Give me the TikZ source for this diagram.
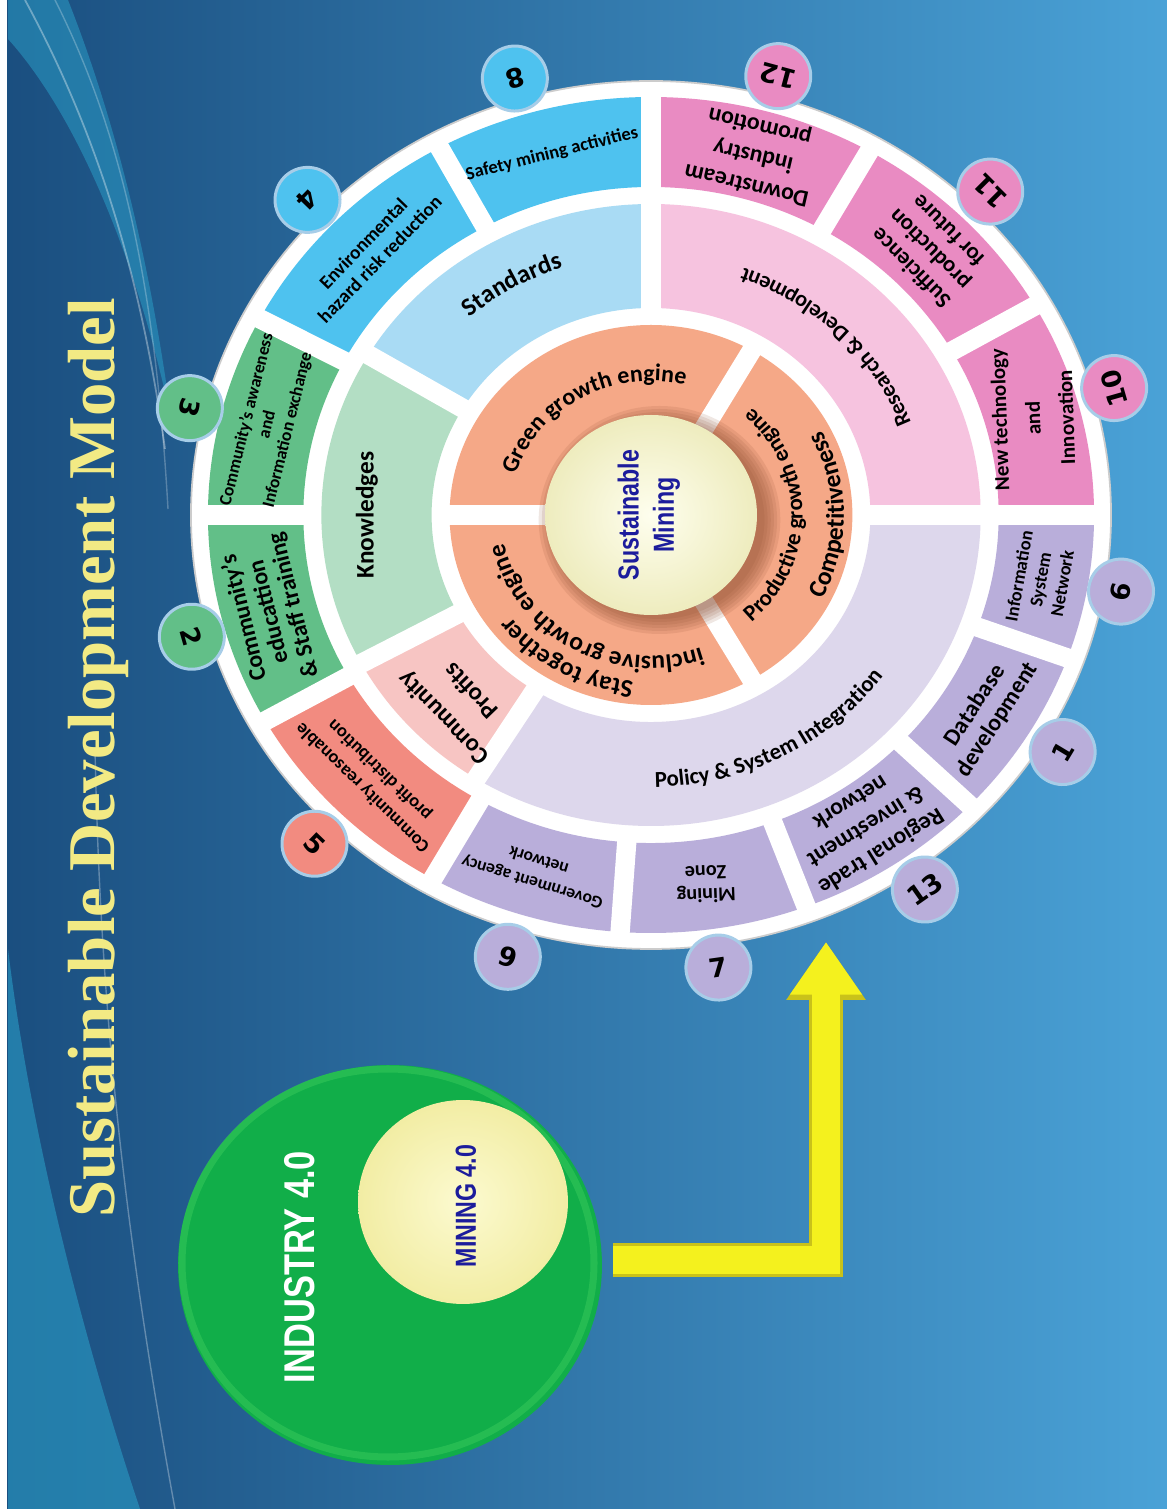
\documentclass[tikz,border=0pt]{standalone}
\usepackage{fontspec}
\setmainfont{Carlito}
\newfontfamily\numfont{DejaVu Sans}
\newfontfamily\titlefont{Liberation Serif}
\newfontfamily\narrowfont[FakeStretch=0.8]{Liberation Sans}
\usetikzlibrary{arrows.meta,calc,shapes.geometric,decorations.text}

\definecolor{bgleft}{HTML}{1A4E7F}
\definecolor{bgright}{HTML}{4AA2D7}
\definecolor{swoosh}{HTML}{2A9CC6}
\definecolor{titleyellow}{HTML}{F2EA84}
\definecolor{pinkO}{HTML}{E98BC2}
\definecolor{pinkM}{HTML}{F6C3DF}
\definecolor{blueO}{HTML}{4EC2EF}
\definecolor{blueM}{HTML}{A9DBF4}
\definecolor{greenO}{HTML}{62BF88}
\definecolor{greenM}{HTML}{B3DEC4}
\definecolor{salmonO}{HTML}{F28B80}
\definecolor{salmonM}{HTML}{F7C5C3}
\definecolor{lilacO}{HTML}{B9AEDA}
\definecolor{lilacM}{HTML}{DDD7EC}
\definecolor{orng}{HTML}{F5A887}
\definecolor{sphshadow}{HTML}{8A4B2E}
\definecolor{sphin}{HTML}{FEFEEE}
\definecolor{sphout}{HTML}{EEECBE}
\definecolor{minein}{HTML}{FCFAD0}
\definecolor{mineout}{HTML}{F2EDA4}
\definecolor{badgeline}{HTML}{A7CDE8}
\definecolor{navytext}{HTML}{1C1C9C}
\definecolor{indgreen}{HTML}{11AE49}
\definecolor{arrowyellow}{HTML}{F4F11E}
\definecolor{arrowedge}{HTML}{C9C21A}

\newcommand{\setfs}[2]{\fontsize{#1}{#2}\selectfont\bfseries}

\begin{document}
\begin{tikzpicture}[x=0.02cm, y=0.02cm,
    lab/.style={align=center, inner sep=0pt},
    badge/.style={circle, draw=badgeline, line width=1.7pt, minimum size=1.3cm,
      inner sep=0pt, font=\numfont\setfs{15}{15}},
    segcut/.style={white, line width=11pt},
    ringtext/.style={decorate, decoration={text along path, text align=center, text={#1}}}]
    %% Background
    \useasboundingbox (0,0) rectangle (1167,1509);
    \shade[left color=bgleft, right color=bgright] (0,0) rectangle (1167,1509);
    \fill[swoosh, opacity=.55] (8,1509) -- (68,1509) .. controls (115,1390) and (150,1250) .. (172,1085)
      .. controls (140,1240) and (80,1390) .. (8,1470) -- cycle;
    \draw[white, opacity=.35, line width=1pt] (25,1509) .. controls (95,1380) and (140,1240) .. (165,1060);
    \draw[white, opacity=.25, line width=.8pt] (55,1509) .. controls (120,1380) and (155,1230) .. (168,1000);
    \fill[swoosh, opacity=.6] (8,0) -- (140,0) .. controls (80,180) and (30,380) .. (8,560) -- cycle;
    \draw[white, opacity=.3, line width=.8pt] (175,0) .. controls (120,300) and (100,520) .. (95,760);
    \fill[white] (0,0) rectangle (7,1509);
    %% Title
    \node[rotate=90, anchor=base, text=titleyellow, font=\titlefont\setfs{38}{38}] (title) at (114,751)
      {Sustainable Development Model};
    %% The wheel
    \begin{scope}[shift={(651,994)}, xscale=1.06]
    \coordinate (wc) at (0,0);
    \fill[white] (wc) circle (434);
    \draw[black!20, line width=1pt] (wc) circle (434);
    % outer ring
    \foreach \a/\b/\c in {0/90/pinkO, 90/152/blueO, 152/209.5/greenO, 209.5/240.5/salmonO, 240.5/360/lilacO}
      \fill[\c] (\a:328) arc[start angle=\a, end angle=\b, radius=328] -- (\b:418)
        arc[start angle=\b, end angle=\a, radius=418] -- cycle;
    \foreach \a in {0,30,60.5,90,118.5,152,180,209.5,240.5,266,290.5,316,340}
      \draw[segcut] (\a:325) -- (\a:421);
    % middle ring
    \foreach \a/\b/\c in {0/90/pinkM, 90/149/blueM, 149/208.5/greenM, 208.5/238/salmonM, 238/360/lilacM}
      \fill[\c] (\a:207) arc[start angle=\a, end angle=\b, radius=207] -- (\b:311)
        arc[start angle=\b, end angle=\a, radius=311] -- cycle;
    \foreach \a in {0,90,149,208.5,238}
      \draw[segcut] (\a:204) -- (\a:314);
    % engine ring and core
    \fill[orng] (wc) circle (190);
    \foreach \a in {60,180,300}
      \draw[segcut] (\a:95) -- (\a:193);
    \foreach \k in {0,...,5}
      \fill[sphshadow, opacity=.13] (8,-5) circle ({99+3*\k});
    \shade[inner color=sphin, outer color=sphout] (wc) circle (100);
    \node[rotate=90, text=navytext, align=center, font=\narrowfont\setfs{16.5}{20}] (core) at (-2,0)
      {Sustainable\\Mining};
    % ring texts
    \path[ringtext={|\setfs{13.6}{14}|Green growth engine}] (210:134) arc[start angle=210, end angle=30, radius=134];
    \path[ringtext={|\setfs{14.5}{15}|Stay together}] (300:167) arc[start angle=300, end angle=180, radius=167];
    \path[ringtext={|\setfs{14.5}{15}|inclusive growth engine}] (310:141) arc[start angle=310, end angle=170, radius=141];
    \path[ringtext={|\setfs{13}{14}|Productive growth engine}] (-70:143) arc[start angle=-70, end angle=70, radius=143];
    \path[ringtext={|\setfs{14.5}{15}|Competitiveness}] (-60:182) arc[start angle=-60, end angle=60, radius=182];
    \path[ringtext={|\setfs{14.5}{15}|Standards}] (150:261) arc[start angle=150, end angle=90, radius=261];
    \path[ringtext={|\setfs{13}{14}|Policy {\&} System Integration}] (238:272) arc[start angle=238, end angle=358, radius=272];
    \path[ringtext={|\setfs{12.7}{13}|Research {\&} Development}] (0:262) arc[start angle=0, end angle=90, radius=262];
    \node[lab, rotate=90, font=\setfs{14.4}{15}] (know) at (180:268) {Knowledges};
    \node[lab, rotate=134, font=\setfs{14}{22}] (cprof) at (226:264) {Community\\Profits};
    % outer labels
    \node[lab, rotate=92, font=\setfs{12}{19}] (l10) at (15:373) {New technology\\and\\Innovation};
    \node[lab, rotate=135, font=\setfs{13}{15}] (l11) at (45.3:373) {Sufficience\\production\\for future};
    \node[lab, rotate=167, font=\setfs{13.5}{17}] (l12) at (75:373) {Downstream\\industry\\promotion};
    \node[lab, rotate=14, font=\setfs{10.5}{12}] (l8) at (104.5:373) {Safety mining activities};
    \node[lab, rotate=46, font=\setfs{11}{13}] (l4) at (135:373) {Environmental\\hazard risk reduction};
    \node[lab, rotate=76, font=\setfs{10}{12}] (l3) at (166:373) {Community's awareness\\and\\Information exchange};
    \node[lab, rotate=104, font=\setfs{13.5}{14.5}] (l2) at (195:373) {Community's\\educattion\\\& Staff training};
    \node[lab, rotate=136, font=\setfs{10.5}{14}] (l5) at (225:373) {Community reasonable\\profit distribution};
    \node[lab, rotate=163, font=\setfs{10}{13}] (l9) at (253:373) {Government agency\\network};
    \node[lab, rotate=182, font=\setfs{11.5}{13}] (l7) at (278:373) {Mining\\Zone};
    \node[lab, rotate=212, font=\setfs{13.5}{16.5}] (l13) at (303:373) {Regional trade\\\& investment\\network};
    \node[lab, rotate=57, font=\setfs{13.5}{15}] (l1) at (328:373) {Database\\development};
    \node[lab, rotate=80, font=\setfs{10.5}{12.5}] (l6) at (350:373) {Information\\System\\Network};
    % number badges
    \node[badge, fill=blueO, rotate=196] (n8) at (106.4:455) {8};
    \node[badge, fill=pinkO, rotate=165] (n12) at (74.7:455) {12};
    \node[badge, fill=pinkO, rotate=135] (n11) at (45.3:455) {11};
    \node[badge, fill=pinkO, rotate=106] (n10) at (16.2:455) {10};
    \node[badge, fill=lilacO, rotate=80] (n6) at (-9.8:450) {6};
    \node[badge, fill=lilacO, rotate=59] (n1) at (-31.4:455) {1};
    \node[badge, fill=lilacO, rotate=35] (n13) at (-55.4:455) {13};
    \node[badge, fill=lilacO, rotate=8] (n7) at (-82:457) {7};
    \node[badge, fill=lilacO, rotate=-17] (n9) at (253:462) {9};
    \node[badge, fill=salmonO, rotate=-44] (n5) at (226:457) {5};
    \node[badge, fill=greenO, rotate=-74] (n2) at (195.7:450) {2};
    \node[badge, fill=greenO, rotate=-104] (n3) at (166.2:448) {3};
    \node[badge, fill=blueO, rotate=-134] (n4) at (135.8:452) {4};
    \end{scope}
    %% Industry 4.0
    \node[ellipse, fill=indgreen, minimum width=8.48cm, minimum height=8cm, inner sep=0pt] (ind) at (390,244) {};
    \draw[green!50!white, opacity=.18, line width=4pt] (388,246) ellipse [x radius=206, y radius=194];
    \node[ellipse, inner color=minein, outer color=mineout, minimum width=4.2cm,
      minimum height=4.08cm, inner sep=0pt] (minec) at (463,307) {};
    \node[rotate=90, text=white, font=\narrowfont\setfs{24.5}{25}] (indtxt) at (300,242) {INDUSTRY 4.0};
    \node[rotate=90, text=navytext, font=\narrowfont\setfs{16.5}{17}] (mintxt) at (466,303) {MINING 4.0};
    %% Arrow to the wheel
    \coordinate (arrS) at (613,249);
    \coordinate (arrE) at (826,567);
    \draw[arrowedge, line width=19pt, line join=miter, -{Triangle[width=43pt, length=33pt]}] (arrS) -| (arrE);
    \draw[arrowyellow, line width=16pt, line join=miter, -{Triangle[width=39pt, length=30pt]}] (arrS) -| (arrE);
\end{tikzpicture}
\end{document}
